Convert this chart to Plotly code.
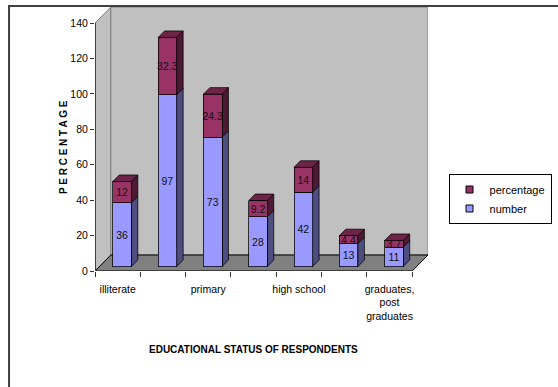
import plotly.graph_objects as go

# ---------------- data ----------------
tick_labels = ["illiterate", "", "primary", "", "high school", "", "graduates,<br>post<br>graduates"]
number = [36, 97, 73, 28, 42, 13, 11]
percentage = [12, 32.3, 24.3, 9.2, 14, 4.4, 3.7]
y_ticks = [0, 20, 40, 60, 80, 100, 120, 140]
series_names = ["number", "percentage"]

# ---------------- geometry (pixels) ----------------
W, H = 558, 387
PLOT_L, PLOT_R, PLOT_T, PLOT_B = 95, 432, 7, 271
PLOT_W, PLOT_H = PLOT_R - PLOT_L, PLOT_B - PLOT_T
DEPTH = 16          # floor / wall depth in px (45 deg oblique)
BAR_FRONT = 4.5     # bar front face depth in px
BAR_DEPTH = 6.5     # bar depth in px
BAR_W = 0.41        # bar width in category units
Y_TOP = y_ticks[-1]

n = len(number)
ux = (PLOT_W - DEPTH) / n           # px per category unit
uy = (PLOT_H - DEPTH) / Y_TOP        # px per value unit
dx, dy = DEPTH / ux, DEPTH / uy
x_max = n - 0.5 + dx
y_max = Y_TOP + dy
sx, sy = BAR_FRONT / ux, BAR_FRONT / uy
bdx, bdy = BAR_DEPTH / ux, BAR_DEPTH / uy

def pxx(p):
    return (p - PLOT_L) / PLOT_W

def pxy(p):
    return (PLOT_B - p) / PLOT_H

FONT = "Liberation Sans, Arial, sans-serif"
C_NUM, C_NUM_SIDE = "#9999FF", "#4D4D80"
C_PCT, C_PCT_SIDE, C_PCT_TOP = "#993366", "#4D1A33", "#6E2449"
WALL, WALL_LINE, FLOOR = "#C0C0C0", "#808080", "#808080"

fig = go.Figure()

xs = list(range(n))
fig.add_trace(go.Bar(
    x=xs, y=number, name=series_names[0], xaxis="x2", yaxis="y2",
    width=BAR_W, marker=dict(color=C_NUM, line=dict(color="#000000", width=0.75)),
    text=[f"{v:g}" for v in number], textposition="inside", insidetextanchor="middle",
    textangle=0, constraintext="none",
    textfont=dict(family=FONT, size=10.5, color="#111111"), showlegend=False))
fig.add_trace(go.Bar(
    x=xs, y=percentage, name=series_names[1], xaxis="x2", yaxis="y2",
    width=BAR_W, marker=dict(color=C_PCT, line=dict(color="#000000", width=0.75)),
    text=[f"{v:g}" for v in percentage], textposition="inside", insidetextanchor="middle",
    textangle=0, constraintext="none",
    textfont=dict(family=FONT, size=10.5, color="#111111"), showlegend=False))

# legend-only entries
for nm, col in [(series_names[1], C_PCT), (series_names[0], C_NUM)]:
    fig.add_trace(go.Scatter(x=[None], y=[None], mode="markers", name=nm,
                             marker=dict(symbol="square", size=7, color=col,
                                         line=dict(color="#000000", width=1))))

shapes = []
# side wall
shapes.append(dict(type="path", xref="x", yref="y", layer="below",
                   path=f"M {-0.5},0 L {-0.5+dx},{dy} L {-0.5+dx},{Y_TOP+dy} L {-0.5},{Y_TOP} Z",
                   fillcolor=WALL, line=dict(color=WALL_LINE, width=1)))
# back wall
shapes.append(dict(type="rect", xref="x", yref="y", layer="below",
                   x0=-0.5+dx, x1=n-0.5+dx, y0=dy, y1=Y_TOP+dy,
                   fillcolor=WALL, line=dict(color=WALL_LINE, width=1)))
# floor
shapes.append(dict(type="path", xref="x", yref="y", layer="below",
                   path=f"M {-0.5},0 L {n-0.5},0 L {n-0.5+dx},{dy} L {-0.5+dx},{dy} Z",
                   fillcolor=FLOOR, line=dict(color="#000000", width=1)))
# bar side/top faces
for i in range(n):
    x0, x1 = i - BAR_W / 2, i + BAR_W / 2
    a, b = number[i], number[i] + percentage[i]
    shapes.append(dict(type="path", xref="x2", yref="y2", layer="below",
                       path=f"M {x1},0 L {x1+bdx},{bdy} L {x1+bdx},{a+bdy} L {x1},{a} Z",
                       fillcolor=C_NUM_SIDE, line=dict(color="#000000", width=0.75)))
    shapes.append(dict(type="path", xref="x2", yref="y2", layer="below",
                       path=f"M {x1},{a} L {x1+bdx},{a+bdy} L {x1+bdx},{b+bdy} L {x1},{b} Z",
                       fillcolor=C_PCT_SIDE, line=dict(color="#000000", width=0.75)))
    shapes.append(dict(type="path", xref="x2", yref="y2", layer="below",
                       path=f"M {x0},{b} L {x0+bdx},{b+bdy} L {x1+bdx},{b+bdy} L {x1},{b} Z",
                       fillcolor=C_PCT_TOP, line=dict(color="#000000", width=0.75)))
# axis lines
shapes.append(dict(type="line", xref="x", yref="y", x0=-0.5, x1=-0.5, y0=0, y1=Y_TOP,
                   line=dict(color="#404040", width=2)))
shapes.append(dict(type="line", xref="x", yref="y", x0=-0.5, x1=n-0.5, y0=0, y1=0,
                   line=dict(color="#404040", width=2)))
# chart area border
shapes.append(dict(type="rect", xref="paper", yref="paper",
                   x0=pxx(8), x1=pxx(W + 20), y0=pxy(H + 20), y1=pxy(6),
                   line=dict(color="#404040", width=2), fillcolor="rgba(0,0,0,0)"))

annotations = [
    dict(text="<b>EDUCATIONAL STATUS OF RESPONDENTS</b>", xref="x", yref="paper",
         x=(n - 1) / 2, y=pxy(349.5), xanchor="center", yanchor="middle", showarrow=False,
         font=dict(family=FONT, size=10, color="#000000")),
    dict(text="<b>" + " ".join("PERCENTAGE") + "</b>", xref="paper", yref="y",
         x=pxx(62.7), y=Y_TOP / 2, xanchor="center", yanchor="middle", showarrow=False,
         textangle=-90, font=dict(family=FONT, size=10, color="#000000")),
]

fig.update_layout(
    width=W, height=H,
    margin=dict(l=PLOT_L, r=W - PLOT_R, t=PLOT_T, b=H - PLOT_B, pad=0),
    paper_bgcolor="#FFFFFF", plot_bgcolor="rgba(0,0,0,0)",
    barmode="stack",
    font=dict(family=FONT, size=10.5, color="#000000"),
    xaxis=dict(range=[-0.5, x_max], tickmode="array", tickvals=xs, ticktext=tick_labels,
               ticks="", showline=False, showgrid=False, zeroline=False,
               ticklabelstandoff=10,
               tickfont=dict(family=FONT, size=10.5, color="#000000"),
               minor=dict(tickmode="array", tickvals=[i - 0.5 for i in range(n + 1)],
                          ticks="outside", ticklen=5, tickcolor="#333333", tickwidth=1,
                          showgrid=False)),
    yaxis=dict(range=[0, y_max], tickmode="array", tickvals=y_ticks,
               ticks="outside", ticklen=4, tickcolor="#333333", tickwidth=1,
               showline=False, showgrid=False, zeroline=False,
               tickfont=dict(family=FONT, size=10.5, color="#000000")),
    xaxis2=dict(overlaying="x", range=[-0.5 - sx, x_max - sx], visible=False),
    yaxis2=dict(overlaying="y", range=[-sy, y_max - sy], visible=False),
    shapes=shapes,
    annotations=annotations,
    showlegend=True,
    legend=dict(x=pxx(557), y=pxy(174), xanchor="right", yanchor="top",
                bgcolor="#FFFFFF", bordercolor="#000000", borderwidth=1,
                font=dict(family=FONT, size=11, color="#000000"),
                traceorder="normal", itemwidth=30, tracegroupgap=0),
)

fig.write_html("out.html")
